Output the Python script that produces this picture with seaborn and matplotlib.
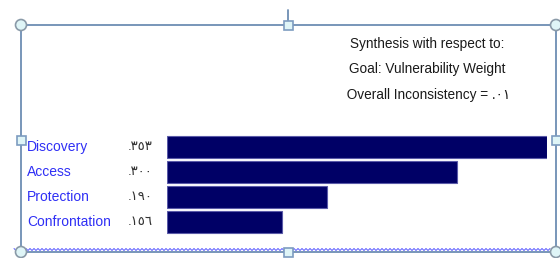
import numpy as np
import matplotlib
matplotlib.use("Agg")
import matplotlib.pyplot as plt
import matplotlib.patches as mpatches
from matplotlib.lines import Line2D
import matplotlib.transforms as mtrans
import seaborn as sns
import pandas as pd

# data
criteria = ["Discovery", "Access", "Protection", "Confrontation"]
weight_labels = [".\u0663\u0665\u0663", ".\u0663\u0660\u0660", ".\u0661\u0669\u0660", ".\u0661\u0665\u0666"]
bar_length = [0.353, 0.269, 0.149, 0.107]  # drawn bar lengths as they appear
header = ["Synthesis with respect to:",
          "Goal: Vulnerability Weight",
          " Overall Inconsistency = .\u0660\u0661"]

sns.set_style("white")
plt.rcParams["font.family"] = ["Liberation Sans", "DejaVu Sans"]

W, H = 560, 258
fig = plt.figure(figsize=(W / 100, H / 100), dpi=100)
fig.patch.set_facecolor("white")

def fx(px):
    return px / W

def fy(py):
    return 1 - py / H

# bar axes
ax = fig.add_axes([fx(167), fy(234.5), fx(380), 100 / H])
df = pd.DataFrame({"criterion": criteria, "len": bar_length})
sns.barplot(data=df, x="len", y="criterion", ax=ax, color="#000066",
            width=0.86, edgecolor="#5a5aa8", linewidth=0.8, saturation=1)
ax.set_xlim(0, 0.353)
ax.set_ylim(3.5, -0.5)
ax.axis("off")

tr = mtrans.blended_transform_factory(fig.transFigure, ax.transData)
for i, (name, lab) in enumerate(zip(criteria, weight_labels)):
    ax.text(fx(27), i, name, transform=tr, ha="left", va="center",
            fontsize=10, color="#2f2ff5")
    ax.text(fx(128), i, lab, transform=tr, ha="left", va="center",
            fontsize=9.5, color="#333333")

for k, line in enumerate(header):
    fig.text(fx(427), fy(44 + k * 25.5), line, ha="center", va="center",
             fontsize=9.8, color="#1a1a1a")

# selection frame around the object
frame_c = "#6d8db3"
left, right, top, bottom = fx(21), fx(556), fy(25), fy(252)
fig.add_artist(Line2D([left, right], [top, top], color=frame_c, lw=1.3))
fig.add_artist(Line2D([left, left], [top, bottom], color=frame_c, lw=1.3))
fig.add_artist(Line2D([right, right], [top, bottom], color=frame_c, lw=1.3))
fig.add_artist(Line2D([left, right], [bottom, bottom], color=frame_c, lw=1.3))
fig.add_artist(Line2D([fx(288), fx(288)], [fy(10), top], color=frame_c, lw=1.3))

# wavy underline along the bottom edge
xs = np.arange(14, 552, 2.0)
ys = 249.5 + np.where((np.arange(len(xs)) % 2) == 0, -1.0, 1.0)
fig.add_artist(Line2D(fx(xs), fy(ys), color="#5a5aff", lw=0.7))

def handle(px, py, kind):
    if kind == "o":
        p = mpatches.Ellipse((fx(px), fy(py)), 11 / W, 11 / H,
                             transform=fig.transFigure, facecolor="#dff5f7",
                             edgecolor="#8a9aa8", lw=1.2, zorder=5)
    else:
        p = mpatches.Rectangle((fx(px - 4.5), fy(py + 4.5)), 9 / W, 9 / H,
                               transform=fig.transFigure, facecolor="#dff5f7",
                               edgecolor="#7d9cc0", lw=1.2, zorder=5)
    fig.add_artist(p)

handle(21, 25, "o")
handle(556, 25, "o")
handle(288, 25, "s")
handle(21, 140, "s")
handle(556, 140, "s")
handle(21, 252, "o")
handle(288, 252, "s")
handle(556, 252, "o")

fig.savefig("out.png", dpi=100, facecolor="white")
